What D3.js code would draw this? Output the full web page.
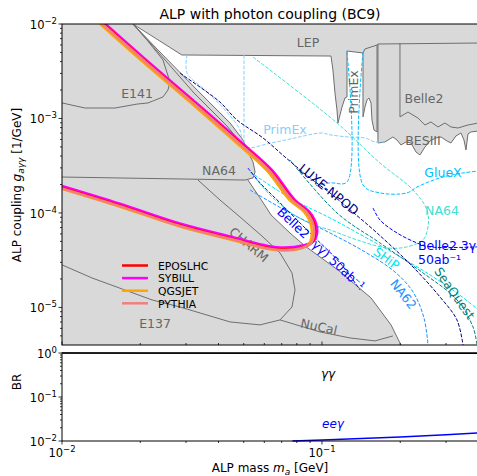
<!DOCTYPE html>
<html>
<head>
<meta charset="utf-8">
<script src="https://cdn.jsdelivr.net/npm/d3@7"></script>
<style>
  body { margin: 0; background: #fff; }
  svg text { font-family: "DejaVu Sans", sans-serif; }
</style>
</head>
<body>
<svg id="chart" width="477" height="476"></svg>
<script>
// ---- reach of the four generators, [m_a GeV, g_agg 1/GeV] ----
const eposlhc = [[0.01445,1e-2],[0.0218,3.68e-3],[0.034,1.29e-3],[0.0484,5.5e-4],[0.0631,2.84e-4],[0.0774,1.37e-4],[0.0876,1.04e-4],[0.0925,8.2e-5],[0.0942,6.3e-5],[0.0917,4.9e-5],[0.0845,4.35e-5],[0.0671,4.15e-5],[0.0443,5.4e-5],[0.0284,7.4e-5],[0.0167,1.2e-4],[0.01,1.85e-4]];
const sybill = [[0.01471,1e-2],[0.02219,3.68e-3],[0.03461,1.29e-3],[0.04927,5.5e-4],[0.06424,2.84e-4],[0.07879,1.37e-4],[0.08918,1.04e-4],[0.09417,8.2e-5],[0.0959,6.3e-5],[0.0929,5.02e-5],[0.0852,4.55e-5],[0.0671,4.34e-5],[0.0443,5.64e-5],[0.0284,7.73e-5],[0.0167,1.254e-4],[0.01,1.933e-4]];
const qgsjet = [[0.01402,1e-2],[0.02115,3.68e-3],[0.033,1.29e-3],[0.04695,5.5e-4],[0.0612,2.84e-4],[0.0751,1.37e-4],[0.085,1.04e-4],[0.0897,8.2e-5],[0.0914,6.3e-5],[0.0895,4.8e-5],[0.0832,4.22e-5],[0.0671,4.03e-5],[0.0443,5.24e-5],[0.0284,7.18e-5],[0.0167,1.164e-4],[0.01,1.795e-4]];
const pythia = [[0.0143,1e-2],[0.0216,3.68e-3],[0.0337,1.29e-3],[0.0479,5.5e-4],[0.0625,2.84e-4],[0.0767,1.37e-4],[0.0868,1.04e-4],[0.0916,8.2e-5],[0.0933,6.3e-5],[0.091,4.85e-5],[0.0841,4.28e-5],[0.0671,4.08e-5],[0.0443,5.32e-5],[0.0284,7.28e-5],[0.0167,1.18e-4],[0.01,1.82e-4]];
const generators = ["EPOSLHC", "SYBILL", "QGSJET", "PYTHIA"];
const genColors = ["#ff0000", "#ff00ff", "#ffa500", "#f08080"];
const drawOrder = [1, 2, 0, 3];

// ---- unconstrained (white) region and existing bounds ----
const allowed = [[0.0189,1e-2],[0.0289,4.7e-3],[0.1083,4.58e-3],[0.1102,3.26e-3],[0.1122,1.86e-3],[0.1142,1.23e-3],[0.1152,8.96e-4],[0.1194,1.32e-3],[0.1226,1.65e-3],[0.1248,1.69e-3],[0.1248,5.18e-3],[0.1438,4.93e-3],[0.1438,1.04e-3],[0.1463,1.32e-3],[0.149,1.57e-3],[0.1516,1.65e-3],[0.1544,1.46e-3],[0.1557,9.64e-4],[0.1585,7.55e-4],[0.1628,7.2e-4],[0.1642,5.5e-4],[0.1747,5.64e-4],[0.1875,6.37e-4],[0.1943,5.92e-4],[0.2013,5.24e-4],[0.2104,5.64e-4],[0.22,5.5e-4],[0.2299,4.42e-4],[0.2382,4.11e-4],[0.249,4.99e-4],[0.2603,5.78e-4],[0.2745,6.22e-4],[0.287,6.37e-4],[0.3026,5.78e-4],[0.3134,5.5e-4],[0.3276,6.53e-4],[0.3425,7.02e-4],[0.3517,5.92e-4],[0.358,4.64e-4],[0.3644,6.86e-4],[0.3742,7.2e-4],[0.4,7.37e-4],[0.4,4e-6],[0.2013,4e-6],[0.1843,6.53e-6],[0.1544,1.26e-5],[0.1152,2.49e-5],[0.086,4.47e-5],[0.0753,6.14e-5],[0.0637,9.52e-5],[0.0588,1.34e-4],[0.0519,2.23e-4],[0.0543,2.35e-4],[0.0553,2.72e-4],[0.0543,3.46e-4],[0.0515,4.64e-4],[0.0497,5.92e-4],[0.0443,8.96e-4],[0.0331,2.0e-3],[0.0238,5.06e-3]];
const lepEdge = [[0.01875,1e-2],[0.0289,4.7e-3],[0.1083,4.58e-3],[0.1102,3.26e-3],[0.1122,1.86e-3],[0.1142,1.23e-3],[0.1152,8.96e-4],[0.1194,1.32e-3],[0.1226,1.65e-3],[0.1248,1.69e-3],[0.1248,5.18e-3],[0.1438,4.93e-3],[0.1463,5.44e-3],[0.1628,5.99e-3],[0.1642,6.14e-3],[0.4,6.29e-3]];
const primexGap = [[0.1438,4.93e-3],[0.1438,1.04e-3],[0.1463,1.32e-3],[0.149,1.57e-3],[0.1516,1.65e-3],[0.1544,1.46e-3],[0.1557,9.64e-4],[0.1585,7.55e-4],[0.1628,7.2e-4],[0.1628,5.99e-3]];
const besiii = [[0.1642,6.14e-3],[0.1642,5.5e-4],[0.1747,5.64e-4],[0.1875,6.37e-4],[0.1943,5.92e-4],[0.2013,5.24e-4],[0.2104,5.64e-4],[0.22,5.5e-4],[0.2299,4.42e-4],[0.2382,4.11e-4],[0.249,4.99e-4],[0.2603,5.78e-4],[0.2745,6.22e-4],[0.287,6.37e-4],[0.3026,5.78e-4],[0.3134,5.5e-4],[0.3276,6.53e-4],[0.3425,7.02e-4],[0.3517,5.92e-4],[0.358,4.64e-4],[0.3644,6.86e-4],[0.3742,7.2e-4],[0.4,7.37e-4]];
const belle2 = [[0.1995,6.29e-3],[0.1995,1.04e-3],[0.2142,1.17e-3],[0.234,1.01e-3],[0.249,8.53e-4],[0.2626,9.18e-4],[0.2794,8.13e-4],[0.2973,8.96e-4],[0.3134,8.13e-4],[0.3335,7.93e-4],[0.3644,8.53e-4],[0.4,8.96e-4]];
const e141 = [[0.01875,1e-2],[0.02123,6.77e-3],[0.02446,4.16e-3],[0.02603,2.43e-3],[0.02556,2.0e-3],[0.02446,1.69e-3],[0.02142,1.46e-3],[0.01943,1.42e-3],[0.016,1.29e-3],[0.01226,1.29e-3],[0.01,1.46e-3]];
const beamDump = [[0.01875,1e-2],[0.0238,5.06e-3],[0.0331,2.0e-3],[0.0443,8.96e-4],[0.0497,5.92e-4],[0.0515,4.64e-4],[0.0543,3.46e-4],[0.0553,2.72e-4],[0.0543,2.35e-4],[0.0506,2.23e-4],[0.01,2.4e-4]];
const beamDump2 = [[0.01875,1e-2],[0.0234,5.06e-3],[0.0322,1.86e-3],[0.0431,8.33e-4],[0.0484,5.64e-4]];
const charm = [[0.01,2.82e-5],[0.01304,2.05e-5],[0.0222,1.2e-5],[0.02844,1.01e-5],[0.04429,7.02e-6],[0.05775,6.53e-6],[0.06895,7.37e-6],[0.07667,1.01e-5],[0.07875,1.53e-5],[0.07667,2.32e-5],[0.06895,3.77e-5],[0.0593,5.57e-5],[0.04837,9.07e-5],[0.04053,1.37e-4],[0.03335,2.23e-4]];
const nucal = [[0.06895,7.37e-6],[0.0983,5.5e-6],[0.1282,4.75e-6],[0.1599,4.42e-6],[0.1875,4.99e-6]];
const outerEdge = [[0.2013,4e-6],[0.1843,6.53e-6],[0.1544,1.26e-5],[0.1152,2.49e-5],[0.086,4.47e-5],[0.0753,6.14e-5],[0.0637,9.52e-5],[0.0588,1.34e-4],[0.0519,2.23e-4]];

// ---- projected sensitivities ----
const luxe = [[0.02844,3.03e-3],[0.03025,2.68e-3],[0.03395,2.15e-3],[0.04053,1.49e-3],[0.04711,9.64e-4],[0.0593,6.22e-4],[0.07206,3.91e-4],[0.08992,2.35e-4],[0.1073,1.63e-4],[0.1282,1.08e-4],[0.1628,6.14e-5],[0.2239,2.68e-5],[0.2844,1.29e-5],[0.3305,7.37e-6],[0.3486,4e-6]];
const primexProj = [[0.03025,4.7e-3],[0.03025,3.03e-3],[0.03548,2.0e-3],[0.04236,1.23e-3],[0.04837,7.55e-4],[0.05012,4.99e-4],[0.06366,5.5e-4],[0.07875,6.22e-4],[0.09912,7.02e-4],[0.1083,6.69e-4],[0.1259,6.37e-4],[0.1463,6.22e-4],[0.1599,5.64e-4],[0.1747,5.64e-4]];
const primexProj2 = [[0.05012,4.7e-3],[0.05012,4.99e-4]];
const gluexLeft = [[0.1248,5.06e-3],[0.1248,2.13e-4],[0.1073,2.08e-4],[0.094,1.93e-4]];
const gluexRight = [[0.1438,5.06e-3],[0.1438,1.98e-4],[0.1671,1.63e-4],[0.2123,1.63e-4],[0.232,1.88e-4],[0.2844,2.35e-4],[0.3486,2.65e-4],[0.4,2.78e-4]];
const na64Proj = [[0.05428,4.47e-3],[0.1142,8.96e-4],[0.1671,3.38e-4],[0.2239,1.75e-4],[0.2534,1.08e-4],[0.2557,7.11e-5],[0.2446,5.18e-5],[0.2123,4.37e-5],[0.1778,4.26e-5],[0.1364,5.18e-5],[0.1073,6.61e-5],[0.0907,7.65e-5],[0.0753,1.02e-4],[0.0631,1.55e-4],[0.0553,2.35e-4]];
const ship = [[0.05286,2.72e-4],[0.0753,1.44e-4],[0.1073,8.85e-5],[0.1438,5.71e-5],[0.1943,3.59e-5],[0.2603,2.21e-5],[0.3305,1.42e-5],[0.4,9.4e-6]];
const na62 = [[0.05286,1.75e-4],[0.0753,1.0e-4],[0.1073,6.14e-5],[0.1463,3.87e-5],[0.1909,2.37e-5],[0.2239,1.46e-5],[0.2468,7.74e-6],[0.2557,4e-6]];
const seaquest = [[0.0753,3.64e-4],[0.1142,1.0e-4],[0.1671,4.81e-5],[0.2446,2.32e-5],[0.3305,1.2e-5],[0.3809,6.22e-6],[0.3948,4e-6]];
const belle2gg = [[0.0519,2.99e-4],[0.05775,2.08e-4],[0.06895,1.28e-4],[0.08992,6.14e-5],[0.1173,2.96e-5],[0.1401,1.53e-5]];
const belle23g = [[0.1571,1.13e-4],[0.1671,8.43e-5],[0.1943,6.14e-5],[0.232,4.81e-5],[0.2603,4.37e-5],[0.3948,4.37e-5]];

// ---- branching ratios ----
const brMass = [0.01, 0.077, 0.1, 0.2, 0.3, 0.4];
const brGG = [1.0, 0.99, 0.9895, 0.9877, 0.9862, 0.9848];
const brEEG = [null, 0.01, 0.0105, 0.0123, 0.0138, 0.0152];

const yTicksTop = [1e-5, 1e-4, 1e-3, 1e-2];
const yTicksBot = [1e-2, 1e-1, 1];
const xTicks = [1e-2, 1e-1];

const svg = d3.select("#chart");
const x = d3.scaleLog().domain([0.01, 0.4]).range([62, 478.5]);
const yT = d3.scaleLog().domain([4e-6, 1e-2]).range([345, 24]);
const yB = d3.scaleLog().domain([0.01, 1]).range([441, 353]);

svg.append("clipPath").attr("id", "clipTop").append("rect")
  .attr("x", 62).attr("y", 24).attr("width", 416.5).attr("height", 321);
svg.append("clipPath").attr("id", "clipBot").append("rect")
  .attr("x", 62).attr("y", 352).attr("width", 416.5).attr("height", 90);

const topG = svg.append("g").attr("clip-path", "url(#clipTop)");
const lineT = d3.line().x(d => x(d[0])).y(d => yT(d[1]));
const smoothT = d3.line().x(d => x(d[0])).y(d => yT(d[1])).curve(d3.curveCatmullRom);

topG.append("rect").attr("x", 62).attr("y", 24).attr("width", 416.5).attr("height", 321).attr("fill", "#d9d9d9");
topG.append("path").attr("d", lineT(allowed) + "Z").attr("fill", "#fff");

[lepEdge, primexGap, besiii, belle2, e141, beamDump, beamDump2, charm, nucal, outerEdge].forEach(d => {
  topG.append("path").attr("d", lineT(d)).attr("fill", "none").attr("stroke", "#6e6e6e").attr("stroke-width", 1);
});

const proj = [
  [primexProj, "#87cefa"], [primexProj2, "#87cefa"], [gluexLeft, "#00bfff"], [gluexRight, "#00bfff"],
  [na64Proj, "#40e0d0"], [ship, "#00e5ee"], [na62, "#1e90ff"], [seaquest, "#008080"],
  [luxe, "#000080"], [belle2gg, "#0000ff"], [belle23g, "#0000ff"]
];
proj.forEach(p => {
  topG.append("path").attr("d", smoothT(p[0])).attr("fill", "none").attr("stroke", p[1])
    .attr("stroke-width", 1).attr("stroke-dasharray", "3.7,1.6");
});

function label(g, txt, px, py, color, rot, anchor, size) {
  g.append("text").attr("transform", `translate(${px},${py}) rotate(${rot || 0})`)
    .attr("text-anchor", anchor || "middle").attr("fill", color).attr("font-size", size || 12.5).text(txt);
}
// bound labels
label(topG, "LEP", 308, 47, "#666");
label(topG, "PrimEx", 358, 92, "#666", -90);
label(topG, "Belle2", 424, 103, "#666");
label(topG, "BESIII", 423, 145, "#666");
label(topG, "E141", 137, 98, "#666");
label(topG, "NA64", 219, 175, "#666");
label(topG, "CHARM", 246, 248, "#666", 40);
label(topG, "NuCal", 318, 331, "#666", 12);
label(topG, "E137", 155, 328, "#666");
// projection labels
label(topG, "PrimEx", 285, 134, "#87cefa");
label(topG, "LUXE-NPOD", 326, 193, "#000080", 39);
label(topG, "Belle2 (γγ) 50ab⁻¹", 318, 252, "#0000ff", 43);
label(topG, "GlueX", 443, 177, "#00bfff");
label(topG, "NA64", 442, 215, "#40e0d0");
label(topG, "Belle2 3γ", 418, 250, "#0000ff", 0, "start");
label(topG, "50ab⁻¹", 418, 264, "#0000ff", 0, "start");
label(topG, "SHiP", 384, 262, "#00e5ee", 36);
label(topG, "NA62", 400, 297, "#1e90ff", 52);
label(topG, "SeaQuest", 451, 296, "#008080", 55);

// generator curves
const genData = [eposlhc, sybill, qgsjet, pythia];
drawOrder.forEach(i => {
  topG.append("path").attr("d", smoothT(genData[i])).attr("fill", "none").attr("stroke", genColors[i])
    .attr("stroke-width", 2.5).attr("stroke-linejoin", "round");
});

// legend
const leg = svg.append("g");
generators.forEach((n, i) => {
  const ly = 265.5 + i * 12.6;
  leg.append("line").attr("x1", 122).attr("x2", 148).attr("y1", ly).attr("y2", ly)
    .attr("stroke", genColors[i]).attr("stroke-width", 2.5);
  leg.append("text").attr("x", 158).attr("y", ly + 4.2).attr("font-size", 10.8).text(n);
});

// bottom panel
const bot = svg.append("g").attr("clip-path", "url(#clipBot)");
const lineB = d3.line().defined(d => d != null).x((d, i) => x(brMass[i])).y(d => yB(d));
bot.append("path").attr("d", lineB(brGG)).attr("fill", "none").attr("stroke", "#000").attr("stroke-width", 1.5);
bot.append("path").attr("d", lineB(brEEG)).attr("fill", "none").attr("stroke", "#0000ff").attr("stroke-width", 1.5);
svg.append("text").attr("x", 328).attr("y", 378).attr("text-anchor", "middle").attr("font-size", 12)
  .attr("font-style", "italic").text("γγ");
svg.append("text").attr("x", 333).attr("y", 428).attr("text-anchor", "middle").attr("font-size", 12)
  .attr("font-style", "italic").attr("fill", "#0000ff").text("eeγ");

// axes frames
function frame(y0, y1) {
  svg.append("rect").attr("x", 62).attr("y", y0).attr("width", 430).attr("height", y1 - y0)
    .attr("fill", "none").attr("stroke", "#000").attr("stroke-width", 1);
}
frame(24, 345);
frame(353, 441);

function powText(px, py, e, anchor) {
  const t = svg.append("text").attr("x", px).attr("y", py).attr("text-anchor", anchor).attr("font-size", 11.5);
  t.append("tspan").text("10");
  t.append("tspan").attr("dy", -5).attr("font-size", 8.5).text(e < 0 ? "−" + (-e) : String(e));
}
function minors(lo, hi) {
  const out = [];
  for (let e = Math.floor(Math.log10(lo)); e <= Math.ceil(Math.log10(hi)); e++)
    for (let k = 2; k <= 9; k++) { const v = k * Math.pow(10, e); if (v > lo * 1.0001 && v < hi * 0.9999) out.push(v); }
  return out;
}
const tk = svg.append("g").attr("stroke", "#000").attr("stroke-width", 0.8);
yTicksTop.forEach(v => {
  tk.append("line").attr("x1", 58.5).attr("x2", 62).attr("y1", yT(v)).attr("y2", yT(v));
  powText(57, yT(v) + 5, Math.round(Math.log10(v)), "end");
});
minors(4e-6, 1e-2).forEach(v => tk.append("line").attr("x1", 60).attr("x2", 62).attr("y1", yT(v)).attr("y2", yT(v)));
yTicksBot.forEach(v => {
  tk.append("line").attr("x1", 58.5).attr("x2", 62).attr("y1", yB(v)).attr("y2", yB(v));
  powText(57, yB(v) + 5, Math.round(Math.log10(v)), "end");
});
minors(0.01, 1).forEach(v => tk.append("line").attr("x1", 60).attr("x2", 62).attr("y1", yB(v)).attr("y2", yB(v)));
xTicks.forEach(v => {
  tk.append("line").attr("x1", x(v)).attr("x2", x(v)).attr("y1", 441).attr("y2", 444.5);
  tk.append("line").attr("x1", x(v)).attr("x2", x(v)).attr("y1", 345).attr("y2", 341.5);
  powText(x(v), 457, Math.round(Math.log10(v)), "middle");
});
minors(0.01, 0.4).forEach(v => {
  tk.append("line").attr("x1", x(v)).attr("x2", x(v)).attr("y1", 441).attr("y2", 443);
  tk.append("line").attr("x1", x(v)).attr("x2", x(v)).attr("y1", 345).attr("y2", 343);
});

// titles
svg.append("text").attr("x", 270).attr("y", 19).attr("text-anchor", "middle").attr("font-size", 14)
  .text("ALP with photon coupling (BC9)");
const xl = svg.append("text").attr("x", 270).attr("y", 472).attr("text-anchor", "middle").attr("font-size", 12);
xl.append("tspan").text("ALP mass ");
xl.append("tspan").attr("font-style", "italic").text("m");
xl.append("tspan").attr("font-style", "italic").attr("font-size", 9).attr("dy", 2.5).text("a");
xl.append("tspan").attr("dy", -2.5).text(" [GeV]");
const yl = svg.append("text").attr("transform", "translate(21,185) rotate(-90)").attr("text-anchor", "middle").attr("font-size", 12);
yl.append("tspan").text("ALP coupling ");
yl.append("tspan").attr("font-style", "italic").text("g");
yl.append("tspan").attr("font-style", "italic").attr("font-size", 9).attr("dy", 2.5).text("aγγ");
yl.append("tspan").attr("dy", -2.5).text(" [1/GeV]");
svg.append("text").attr("transform", "translate(21,382) rotate(-90)").attr("text-anchor", "middle").attr("font-size", 12).text("BR");
</script>
</body>
</html>
